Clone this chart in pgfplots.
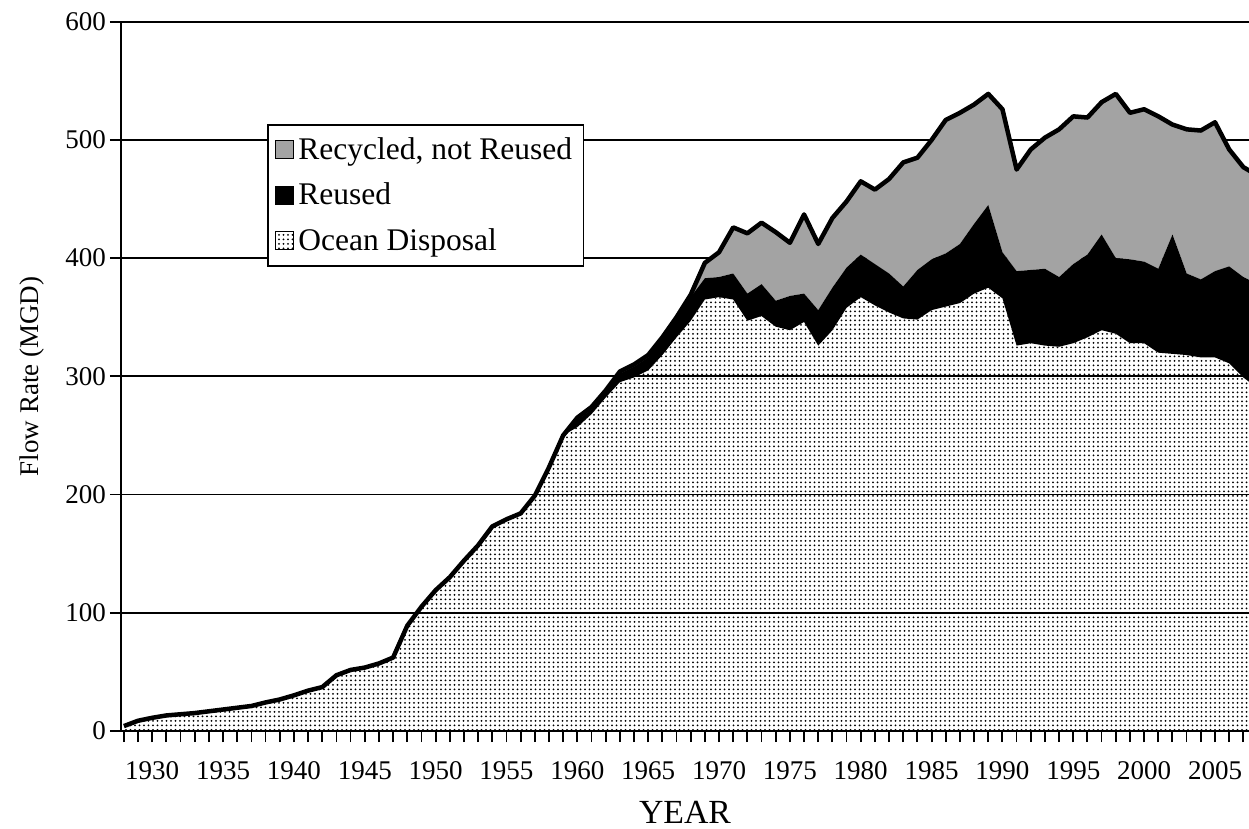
\documentclass[border=0pt]{standalone}
\usepackage{fontspec}
\setmainfont{Liberation Serif}
\usepackage{pgfplots}
\pgfplotsset{compat=1.18}
\usepackage{pgfplotstable}
\usetikzlibrary{patterns.meta}

\pgfplotstableread{
year ocean reused recycled total
1928 4 0 0 4
1929 8.5 0 0 8.5
1930 11 0 0 11
1931 13 0 0 13
1932 14 0 0 14
1933 15 0 0 15
1934 16.5 0 0 16.5
1935 18 0 0 18
1936 19.5 0 0 19.5
1937 21 0 0 21
1938 24 0 0 24
1939 26.5 0 0 26.5
1940 30 0 0 30
1941 34 0 0 34
1942 37 0 0 37
1943 47 0 0 47
1944 51.5 0 0 51.5
1945 53.5 0 0 53.5
1946 57 0 0 57
1947 62 0 0 62
1948 89 0 0 89
1949 105 0 0 105
1950 119 0 0 119
1951 130 0 0 130
1952 144 0 0 144
1953 157 0 0 157
1954 173 0 0 173
1955 179 0 0 179
1956 184 0 0 184
1957 199 0 0 199
1958 223 0 0 223
1959 250 0 0 250
1960 257 6 2 265
1961 268 4 2 274
1962 282 4 2 288
1963 295 7 2 304
1964 299 9 2 310
1965 305 11 2 318
1966 318 13 2 333
1967 333 15 2 350
1968 347 20 2 369
1969 365 18 13 396
1970 367 17 21 405
1971 365 22 39 426
1972 347 23 51 421
1973 351 27 52 430
1974 342 22 58 422
1975 339 29 45 413
1976 346 24 67 437
1977 326 30 56 412
1978 339 36 59 434
1979 358 34 56 448
1980 367 36 62 465
1981 360 35 63 458
1982 354 33 80 467
1983 349 27 105 481
1984 348 42 95 485
1985 356 43 101 500
1986 359 45 113 517
1987 362 50 111 523
1988 370 59 101 530
1989 375 70 94 539
1990 366 39 121 526
1991 326 63 86 475
1992 328 62 102 492
1993 326 65 111 502
1994 325 59 125 509
1995 328 67 125 520
1996 333 70 116 519
1997 339 81 112 532
1998 336 64 139 539
1999 328 71 124 523
2000 328 69 129 526
2001 320 71 129 520
2002 319 101 93 513
2003 318 69 122 509
2004 316 66 126 508
2005 316 73 126 515
2006 311 82 99 492
2007 299 85 93 477
2008 290 88 92 470
}\flowdata

\pgfplotsset{
  flowframe/.style={
    at={(53.8pt,43.6pt)}, anchor=south west,
    scale only axis, width=501.3pt, height=315.1pt,
    xmin=1927.8, xmax=2007.4, ymin=0, ymax=600,
  }
}

\begin{document}
\begin{tikzpicture}
\useasboundingbox (0,0) rectangle (555.1pt,368.4pt);
\begin{axis}[
  flowframe,
  stack plots=y,
  axis lines*=left,
  axis line style={line width=0.9pt},
  xtick={1930,1935,...,2005},
  minor xtick={1928,1929,...,2007},
  ytick={0,100,...,600},
  tick align=outside,
  major tick length=5pt, minor tick length=5pt,
  every tick/.style={black, line width=0.8pt},
  ymajorgrids, major grid style={black, line width=0.8pt},
  tick label style={font=\fontsize{12}{14}\selectfont},
  /pgf/number format/assume math mode=true,
  /pgf/number format/1000 sep={},
  xticklabel style={yshift=-5pt},
  yticklabel style={inner xsep=1.5pt},
  xlabel={YEAR}, ylabel={Flow Rate (MGD)},
  xlabel style={at={(axis description cs:0.5,0)}, anchor=center, yshift=-36.4pt, font=\fontsize{15}{17}\selectfont},
  ylabel style={at={(axis description cs:-0.079,0.5)}, anchor=center, font=\fontsize{12}{14}\selectfont},
  legend style={at={(axis description cs:0.1295,0.856)}, anchor=north west, draw=black, line width=0.8pt,
    fill=white, font=\fontsize{14}{16}\selectfont, row sep=5pt, inner xsep=3pt, inner ysep=3.5pt,
    cells={anchor=west}},
  legend image code/.code={\draw[#1, draw=black, line width=0.5pt] (0pt,-4pt) rectangle (8pt,4pt);},
  reverse legend,
]
\addplot[draw=none, pattern={Dots[distance=2pt, radius=0.45pt]}, pattern color=black]
  table[x=year, y=ocean]{\flowdata} \closedcycle;
\addlegendentry{Ocean Disposal}
\addplot[draw=none, fill=black]
  table[x=year, y=reused]{\flowdata} \closedcycle;
\addlegendentry{Reused}
\addplot[draw=none, fill=black!36]
  table[x=year, y=recycled]{\flowdata} \closedcycle;
\addlegendentry{Recycled, not Reused}
\end{axis}
\begin{axis}[flowframe, hide axis]
\addplot[draw=black, line width=2pt, line join=round]
  table[x=year, y=total]{\flowdata};
\end{axis}
\end{tikzpicture}
\end{document}
